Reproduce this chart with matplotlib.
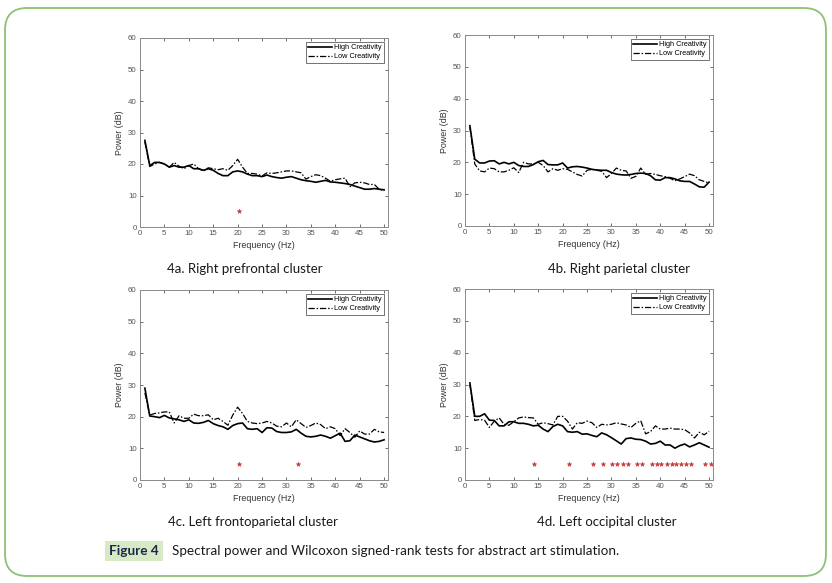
import matplotlib
matplotlib.use("Agg")
import matplotlib.pyplot as plt
from matplotlib.patches import FancyBboxPatch, Rectangle

freq = list(range(1, 51))

high_a = [27.5, 19.5, 20.5, 20.5, 20, 19, 19.5, 19, 19, 19.5, 18.5, 18.5, 18, 18.5, 18, 17, 16.3, 16.3, 17.5, 17.8,
          17.5, 16.8, 16.3, 16.3, 16, 16.5, 16, 15.7, 15.5, 15.8, 16, 15.5, 15, 14.7, 14.5, 14.2, 14.5, 14.8, 14.3, 14.2,
          14, 13.8, 13.5, 13, 12.5, 12, 12, 12.2, 12, 11.8]
low_a = [27, 19.2, 20, 20.5, 20, 19, 20.5, 19.3, 18.5, 19.5, 20, 18.5, 17.8, 18.8, 18.5, 18.2, 18.5, 18, 19.5, 21.5,
         19, 17, 17, 16.8, 16.2, 17.2, 17, 17.2, 17.5, 17.8, 17.8, 17.5, 17.2, 15.2, 16, 16.6, 16.3, 15.5, 14.5, 15,
         15.3, 15.5, 12.8, 14, 14.2, 14, 13.5, 13.5, 12, 11.5]
sig_a = [20.2]

high_b = [31.5, 21, 19.8, 19.8, 20.4, 20.5, 19.5, 20, 19.5, 20, 19, 18.7, 18.7, 19.3, 20.2, 20.6, 19.3, 19.2, 19.2, 19.8,
          18.2, 18.6, 18.7, 18.5, 18.2, 17.8, 17.6, 17.5, 17.5, 16.8, 16.3, 16.1, 16, 16.2, 16.5, 16.6, 16.5, 15.8, 14.5, 14.4,
          15.2, 15.2, 14.8, 14.2, 14, 14, 13.2, 12.3, 12.2, 13.8]
low_b = [31, 19.5, 17.3, 17, 18.2, 18, 17, 17, 17.5, 18.3, 16.8, 20, 19.5, 19.5, 20, 19, 17, 18, 17.5, 18,
         17.8, 17, 16.2, 15.7, 17.5, 17.8, 17.5, 17.2, 15.2, 16.5, 18.2, 17.5, 17.3, 15, 15.6, 18.2, 16.2, 16.5, 16.2, 15.8,
         15.5, 15, 14.2, 14.8, 15.5, 16.3, 15.8, 14.5, 14, 13.5]
sig_b = []

high_c = [29, 20.2, 20, 19.7, 20.4, 19.6, 19.3, 19, 18.5, 19, 18, 17.9, 18.2, 18.8, 17.8, 17.2, 16.8, 16, 17.2, 17.8,
          18, 16.2, 16, 16.2, 15, 16.5, 16.4, 15.3, 15, 15, 15.2, 16, 14.8, 13.8, 13.6, 13.8, 14.2, 13.8, 13.2, 14,
          14.8, 12.2, 12.4, 14.2, 13.6, 13, 12.4, 12, 12.2, 12.7]
low_c = [27.5, 20.5, 21, 21.2, 21.5, 21.5, 18, 20.3, 19.5, 19.5, 20.8, 20.3, 20.3, 20.6, 19, 19.5, 18.5, 17.3, 20.5, 23,
         21, 18.5, 18, 17.8, 18, 18.5, 18, 17, 16.8, 18, 16.8, 19, 17.8, 16.6, 17.2, 18, 17.5, 16.2, 16.8, 16.2,
         14, 16.2, 15, 13.5, 15.5, 14.5, 14.5, 16, 15.2, 15]
sig_c = [20.2, 32.3]

high_d = [30.5, 20, 20, 20.8, 18.8, 18.7, 17, 17, 18.3, 18.3, 17.8, 17.8, 17.5, 17, 17.2, 16, 15.2, 16.8, 17.5, 17,
          15.2, 15, 15.2, 14.4, 14.5, 14, 13.6, 14.8, 14.2, 13.3, 12.3, 11.3, 13, 13.2, 12.8, 12.7, 12.2, 11.3, 11.5, 12.2,
          11, 11, 10, 10.8, 11.3, 10.4, 11, 11.7, 11, 10.3]
low_d = [30, 18.7, 19, 18.8, 16.5, 18.5, 19.5, 17.5, 17.2, 18.3, 19.5, 19.8, 19.6, 19.5, 17.5, 18, 17.7, 17.3, 20, 20,
         18.5, 16, 18, 17.8, 18.5, 18, 16.5, 17.5, 17.3, 17.5, 18, 17.6, 17.3, 16.5, 17.8, 18.6, 14.5, 15.2, 17, 16,
         16, 16.3, 16, 16, 15.8, 14.8, 13.2, 15, 14.2, 15.3]
sig_d = [14.2, 21.3, 26.2, 28.2, 30.2, 31.2, 32.3, 33.3, 35.3, 36.3, 38.3, 39.3, 40.2, 41.3, 42.3, 43.2, 44.3,
         45.3, 46.2, 49.2, 50.3]

panel_titles = ["4a. Right prefrontal cluster", "4b. Right parietal cluster",
                "4c. Left frontoparietal cluster", "4d. Left occipital cluster"]
series_labels = ["High Creativity", "Low Creativity"]
xticks = [0, 5, 10, 15, 20, 25, 30, 35, 40, 45, 50]
yticks = [0, 10, 20, 30, 40, 50, 60]
sig_level = 5

W, H = 832, 583
fig = plt.figure(figsize=(W / 100, H / 100), dpi=100)

# outer rounded frame
frame = FancyBboxPatch((5 / 100, 7 / 100), (826 - 5) / 100, (576 - 8) / 100,
                       boxstyle="round,pad=0,rounding_size=0.22",
                       transform=fig.dpi_scale_trans, fill=False,
                       edgecolor="#92bf76", linewidth=1.3)
fig.patches.append(frame)

panels = [
    (high_a, low_a, sig_a, (140, 38, 227), (245, 269)),
    (high_b, low_b, sig_b, (465, 35, 226), (619, 269)),
    (high_c, low_c, sig_c, (140, 290, 480), (253, 522)),
    (high_d, low_d, sig_d, (465, 289, 480), (607, 522)),
]

sans = ["Liberation Sans", "DejaVu Sans"]
axis_col = "#555555"
for (hi, lo, sig, (lpx, tpx, bpx), (cx, cy)), title in zip(panels, panel_titles):
    ax = fig.add_axes([lpx / W, 1 - bpx / H, 248 / W, (bpx - tpx) / H])
    ax.plot(freq, hi, color="black", lw=1.2, label=series_labels[0])
    ax.plot(freq, lo, color="black", lw=0.9, linestyle=(0, (5, 1.5, 1.2, 1.5)), label=series_labels[1])
    if sig:
        ax.plot(sig, [sig_level] * len(sig), linestyle="none", marker="*",
                color="#c8383a", markersize=3.3, markeredgewidth=0.4)
    ax.set_xlim(0, 50.8)
    ax.set_ylim(0, 60)
    ax.set_xticks(xticks)
    ax.set_yticks(yticks)
    ax.tick_params(direction="in", length=2.5, width=0.6, top=True, right=True,
                   labelsize=5.7, colors=axis_col, pad=2.5)
    for lab in ax.get_xticklabels() + ax.get_yticklabels():
        lab.set_family(sans)
    for s in ax.spines.values():
        s.set_color("#8a8a8a")
        s.set_linewidth(0.7)
    ax.set_xlabel("Frequency (Hz)", fontsize=6.4, color="#333333", labelpad=2.5, family=sans)
    ax.set_ylabel("Power (dB)", fontsize=6.4, color="#333333", labelpad=3, family=sans)
    leg = ax.legend(loc="upper right", frameon=True, fancybox=False,
                    handlelength=3.2, handletextpad=0.3, borderpad=0.35,
                    labelspacing=0.25, borderaxespad=0.5,
                    prop={"family": sans, "size": 5.3})
    leg.get_frame().set_edgecolor("#333333")
    leg.get_frame().set_linewidth(0.6)
    fig.text(cx / W, 1 - cy / H, title, ha="center", va="center", fontsize=9.5,
             family=["Lato", "DejaVu Sans"], color="#1a1a1a")

# Figure caption
fig.patches.append(Rectangle((105 / W, 1 - 561 / H), 58 / W, 20 / H,
                             transform=fig.transFigure, facecolor="#d8e9c6",
                             edgecolor="none"))
fig.text(134 / W, 1 - 551 / H, "Figure 4", ha="center", va="center", fontsize=9.8,
         family=["Lato", "DejaVu Sans"], color="#1b2a4a", weight="bold")
fig.text(172 / W, 1 - 551 / H,
         "Spectral power and Wilcoxon signed-rank tests for abstract art stimulation.",
         ha="left", va="center", fontsize=9.7, family=["Lato", "DejaVu Sans"], color="#1a1a1a")

fig.savefig("out.png", dpi=100)
